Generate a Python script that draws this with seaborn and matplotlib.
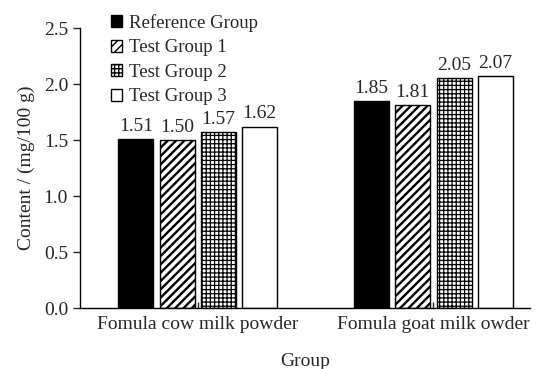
import matplotlib
matplotlib.use('Agg')
import matplotlib.pyplot as plt
import seaborn as sns
import pandas as pd

# data
products = ['Fomula cow milk powder', 'Fomula goat milk owder']
groups = ['Reference Group', 'Test Group 1', 'Test Group 2', 'Test Group 3']
ref_vals = [1.51, 1.85]
test1_vals = [1.50, 1.81]
test2_vals = [1.57, 2.05]
test3_vals = [1.62, 2.07]

df = pd.DataFrame({
    'Product': products * 4,
    'Group': [g for g in groups for _ in products],
    'Content': ref_vals + test1_vals + test2_vals + test3_vals,
})

sns.set_style('ticks')
plt.rcParams['font.family'] = ['Liberation Serif', 'DejaVu Serif']
plt.rcParams['hatch.linewidth'] = 1.0
plt.rcParams['hatch.color'] = 'black'

fig = plt.figure(figsize=(5.36, 3.69), dpi=100)
ax = fig.add_axes([0.149, 0.165, 0.84, 0.759])

palette = ['black', 'white', 'white', 'white']
sns.barplot(data=df, x='Product', y='Content', hue='Group', hue_order=groups,
            palette=palette, width=0.7, gap=0.15, edgecolor='black',
            linewidth=1.0, saturation=1, ax=ax)

hatches = ['', '////', '++++', '']
hatch_lw = [1.0, 1.7, 0.9, 1.0]
for cont, h, hl in zip(ax.containers, hatches, hatch_lw):
    for bar in cont:
        bar.set_hatch(h)
        if hasattr(bar, 'set_hatch_linewidth'):
            bar.set_hatch_linewidth(hl)
    ax.bar_label(cont, fmt='%.2f', padding=3, fontsize=14)

ax.set_ylim(0, 2.5)
ax.set_xlim(-0.5, 1.41)
ax.set_yticks([0, 0.5, 1.0, 1.5, 2.0, 2.5])
ax.set_yticklabels(['0.0', '0.5', '1.0', '1.5', '2.0', '2.5'])
ax.tick_params(axis='y', labelsize=14, direction='out', length=5, width=1)
ax.tick_params(axis='x', labelsize=14, direction='in', length=4, width=1, pad=6)
ax.set_ylabel('Content / (mg/100 g)', fontsize=14, labelpad=6)
ax.set_xlabel('Group', fontsize=14, labelpad=14)
for s in ['left', 'bottom']:
    ax.spines[s].set_linewidth(1.0)
    ax.spines[s].set_color('black')
sns.despine(ax=ax)

handles, labels = ax.get_legend_handles_labels()
for hd, h in zip(handles, hatches):
    hd.set_hatch(h)
    hd.set_edgecolor('black')
ax.legend(handles, labels, loc='upper left', bbox_to_anchor=(0.18, 1.0),
          bbox_transform=fig.transFigure, frameon=False, fontsize=13.5,
          handlelength=0.6, handleheight=0.6, handletextpad=0.4,
          labelspacing=0.4, borderaxespad=0.35)

fig.savefig('out.png', dpi=100)
